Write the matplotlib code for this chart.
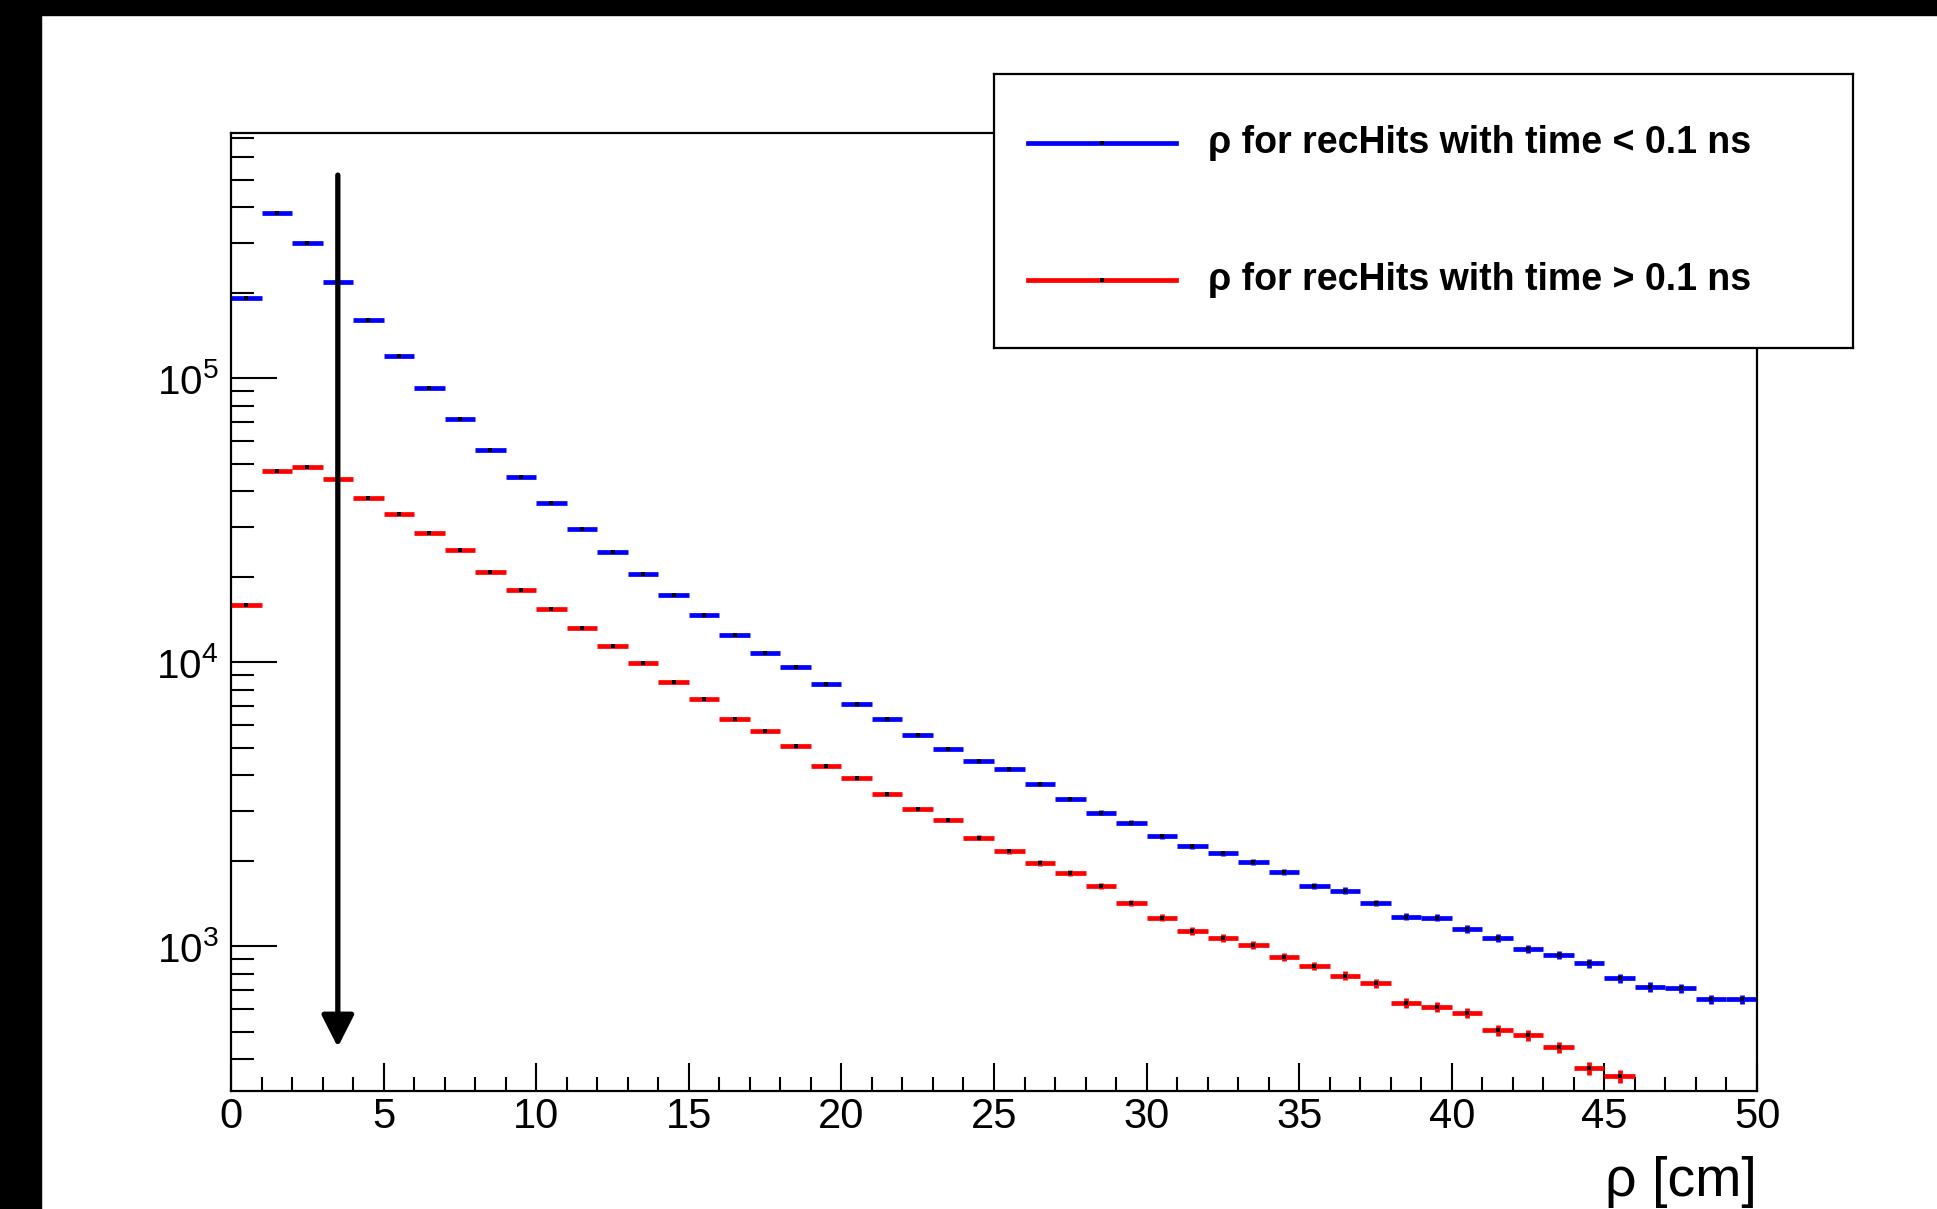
import numpy as np
import matplotlib
matplotlib.use('Agg')
import matplotlib.pyplot as plt
from matplotlib.ticker import LogLocator, MultipleLocator, NullFormatter, FixedLocator, FixedFormatter
from matplotlib.patches import Rectangle

plt.rcParams['font.family'] = ['Liberation Sans', 'DejaVu Sans']
plt.rcParams['mathtext.fontset'] = 'custom'
plt.rcParams['mathtext.rm'] = 'Liberation Sans'
plt.rcParams['mathtext.default'] = 'regular'

# 数据: 每个bin 1 cm, 0-50
bin_edges = np.arange(0, 51, 1)
blue_counts = [192000, 383000, 300000, 218000, 160000, 120000, 92300, 71900, 56000, 44900,
               36400, 29500, 24400, 20400, 17200, 14600, 12500, 10800, 9600, 8350,
               7120, 6310, 5540, 4960, 4490, 4190, 3710, 3290, 2950, 2720,
               2440, 2250, 2120, 1980, 1820, 1630, 1570, 1420, 1270, 1260,
               1150, 1070, 980, 933, 869, 771, 719, 712, 650, 650]
red_counts = [15850, 47200, 48600, 44000, 37800, 33200, 28600, 24900, 20800, 17900,
              15400, 13200, 11400, 9900, 8520, 7410, 6310, 5710, 5060, 4310,
              3900, 3430, 3040, 2780, 2410, 2160, 1960, 1810, 1630, 1420,
              1260, 1130, 1070, 1010, 914, 851, 787, 741, 631, 612,
              582, 506, 486, 440, 371, 349]
legend_labels = [r'ρ for recHits with time < 0.1 ns', r'ρ for recHits with time > 0.1 ns']
x_label = 'ρ [cm]'
arrow_x = 3.5
arrow_y = [5.19e5, 441]

fig = plt.figure(figsize=(19.37, 12.09), dpi=100)
W, H = 1937, 1209

# ROOT 截图的黑边
fig.patches.append(Rectangle((0, 0), 41 / W, 1, transform=fig.transFigure, color='k', zorder=0))
fig.patches.append(Rectangle((0, 1 - 15 / H), 1, 15 / H, transform=fig.transFigure, color='k', zorder=0))

ax = fig.add_axes([231 / W, 1 - 1091 / H, (1757 - 231) / W, (1091 - 133) / H])

centers = bin_edges[:-1] + 0.5
for counts, col in [(blue_counts, (0, 0, 1)), (red_counts, (1, 0, 0))]:
    c = np.array(counts, dtype=float)
    xc = centers[:len(c)]
    ax.errorbar(xc, c, xerr=0.5, yerr=np.sqrt(c), fmt='none', ecolor=col, elinewidth=3.4, capsize=0)
    ax.plot(xc, c, 's', color='k', ms=2.2, mew=0)

ax.annotate('', xy=(arrow_x, arrow_y[1]), xytext=(arrow_x, arrow_y[0]),
            arrowprops=dict(arrowstyle='-|>,head_length=0.65,head_width=0.33', lw=3.8, color='k',
                            mutation_scale=30, shrinkA=0, shrinkB=0))

ax.set_yscale('log')
ax.set_xlim(0, 50)
ax.set_ylim(309, 7.3e5)

ax.xaxis.set_major_locator(MultipleLocator(5))
ax.xaxis.set_minor_locator(MultipleLocator(1))
ax.yaxis.set_major_locator(FixedLocator([1e3, 1e4, 1e5]))
ax.yaxis.set_major_formatter(FixedFormatter(['$10^{3}$', '$10^{4}$', '$10^{5}$']))
ax.yaxis.set_minor_locator(LogLocator(base=10, subs=np.arange(2, 10)))
ax.yaxis.set_minor_formatter(NullFormatter())

ax.tick_params(axis='x', which='major', direction='in', length=20, width=1.5, labelsize=30, pad=4,
               top=False)
ax.tick_params(axis='x', which='minor', direction='in', length=10, width=1.5, top=False)
ax.tick_params(axis='y', which='major', direction='in', length=33, width=1.5, labelsize=29, pad=9,
               right=False)
ax.tick_params(axis='y', which='minor', direction='in', length=16.5, width=1.5, right=False)
for s in ax.spines.values():
    s.set_linewidth(1.6)

# 参考图里标题底部被截掉, 这里略微上移让它完整
fig.text(1757 / W, 1 - 1196 / H, x_label, ha='right', va='baseline', fontsize=40)

# 图例
lax = fig.add_axes([994 / W, 1 - 348 / H, (1853 - 994) / W, (348 - 74) / H])
lax.set_xlim(0, 1)
lax.set_ylim(0, 1)
lax.set_xticks([])
lax.set_yticks([])
for s in lax.spines.values():
    s.set_linewidth(1.6)
for yy, col, lab in [(0.748, (0, 0, 1), legend_labels[0]), (0.248, (1, 0, 0), legend_labels[1])]:
    lax.plot([0.0396, 0.2119], [yy, yy], color=col, lw=3.4)
    lax.plot([0.1258], [yy], 's', color='k', ms=2.2, mew=0)
    lax.text(0.249, yy, lab, ha='left', va='center', fontsize=27, fontweight='bold')

fig.savefig('out.png', dpi=100)
